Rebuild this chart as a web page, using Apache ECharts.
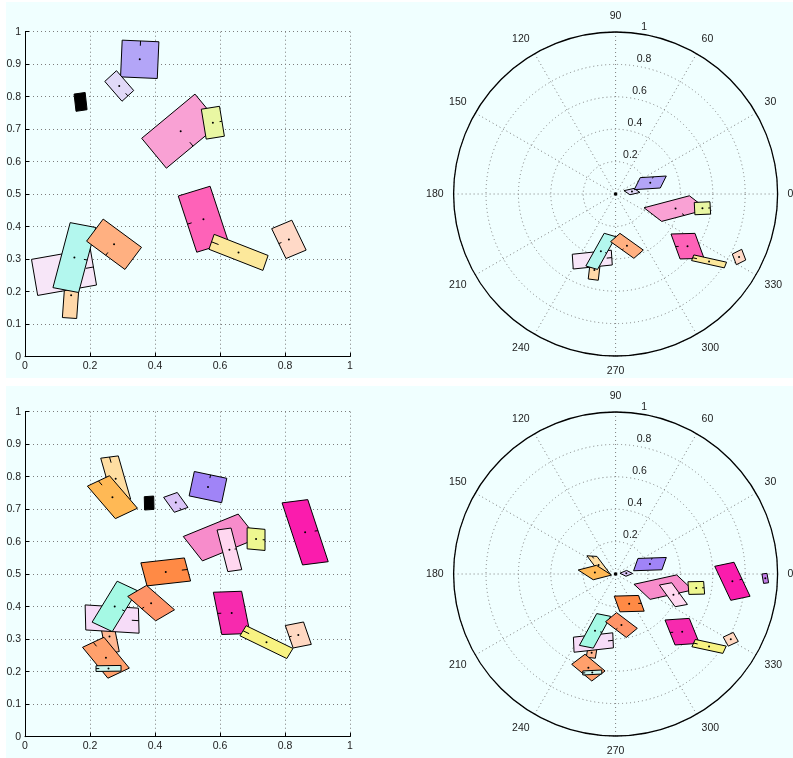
<!DOCTYPE html>
<html><head><meta charset="utf-8">
<script src="https://cdn.jsdelivr.net/npm/echarts@6/dist/echarts.min.js"></script>
<style>html,body{margin:0;padding:0;background:#ffffff;}#c{width:793px;height:758px;}</style>
</head><body><div id="c"></div>
<script>
// ---------- DATA ----------
// tick side codes: 0 = +u edge, 1 = +v edge, 2 = -u edge, 3 = -v edge, -1 = none
// Top cartesian panel
const tcX = [0.353, 0.290, 0.171, 0.479, 0.578, 0.549, 0.657, 0.812, 0.142, 0.120, 0.152, 0.274];
const tcY = [0.915, 0.833, 0.784, 0.694, 0.720, 0.423, 0.321, 0.361, 0.189, 0.260, 0.305, 0.346];
const tcU = [[0.113,-0.005],[0.053,-0.061],[0.034,0.005],[0.164,0.136],[0.056,0.009],[0.098,0.030],[0.166,-0.065],[0.062,0.026],[0.044,-0.003],[0.181,0.032],[0.079,-0.015],[0.118,-0.087]];
const tcV = [[0.005,0.113],[0.036,0.033],[-0.006,0.053],[-0.076,0.092],[-0.015,0.092],[-0.057,0.173],[0.016,0.046],[-0.044,0.092],[0.010,0.140],[-0.019,0.111],[0.053,0.200],[0.051,0.068]];
const tcTick = [1, 0, -1, 3, 0, 2, 2, 2, -1, 0, 0, 3];
const tcColor = ['#b3a5f7','#e1d9f8','#000000','#f9a1d4','#e9f7a3','#fe62b8','#fce89b','#ffd9c7','#ffd8a9','#f7e6f8','#b3f7ee','#ffb081'];

// Bottom cartesian panel
const bcX = [0.382, 0.464, 0.563, 0.279, 0.269, 0.601, 0.629, 0.711, 0.862, 0.433, 0.260, 0.268, 0.276, 0.388, 0.249, 0.257, 0.636, 0.743, 0.841];
const bcY = [0.719, 0.721, 0.768, 0.794, 0.737, 0.613, 0.575, 0.608, 0.629, 0.507, 0.308, 0.362, 0.401, 0.411, 0.243, 0.210, 0.381, 0.291, 0.313];
const bcU = [[0.029,0.002],[0.033,-0.046],[0.100,-0.021],[0.054,0.007],[0.086,-0.100],[0.169,0.069],[0.043,0.006],[0.055,-0.005],[0.079,0.010],[0.134,0.015],[0.040,0.008],[0.164,-0.010],[0.062,-0.029],[0.086,-0.075],[0.078,-0.095],[0.077,0.001],[0.087,0.003],[0.144,-0.070],[0.056,0.011]];
const bcV = [[-0.001,0.041],[0.042,0.015],[0.016,0.075],[-0.038,0.133],[0.068,0.032],[-0.059,0.075],[-0.033,0.128],[0.000,0.065],[-0.063,0.191],[-0.019,0.071],[-0.020,0.100],[-0.002,0.077],[0.077,0.126],[0.058,0.034],[0.066,0.031],[0.000,0.0175],[-0.026,0.130],[0.019,0.031],[-0.024,0.069]];
const bcTick = [-1, 0, 1, 1, 2, -1, 0, 0, 0, 0, -1, 0, 0, 3, 2, 2, 2, 2, 2];
const bcColor = ['#000000','#d9c4f7','#a084f7','#ffdea2','#ffb955','#f78ccb','#ffd7f0','#eef790','#fa1cad','#ff8a45','#ffb791','#f6dcf8','#a5f9e4','#ff9468','#ffa06c','#cff6ee','#f72aae','#f8f382','#ffd8c2'];

// Top polar panel (x, y in the polar plane, radius units)
const tpX = [0, 0.101, 0.214, 0.370, 0.536, 0.444, 0.577, 0.762, -0.131, -0.144, -0.091, 0.070];
const tpY = [0, 0.015, 0.069, -0.090, -0.088, -0.322, -0.416, -0.389, -0.469, -0.405, -0.354, -0.320];
const tpU = [[0.012,0],[0.062,0.014],[0.161,0.010],[0.280,0.074],[0.097,0.004],[0.148,0.004],[0.202,-0.045],[0.058,0.029],[0.062,-0.008],[0.241,0.025],[0.072,-0.021],[0.144,-0.103]];
const tpV = [[0,0.012],[0.037,-0.025],[0.037,0.074],[-0.109,0.084],[-0.004,0.076],[-0.056,0.154],[0.014,0.035],[0.025,-0.066],[0.014,0.119],[-0.006,0.091],[0.113,0.202],[0.058,0.051]];
const tpTick = [-1, -1, 1, 3, 0, 2, 2, -1, -1, 0, 0, 3];
const tpColor = ['#000000','#e1d9f8','#b3a5f7','#f9a1d4','#e9f7a3','#fe62b8','#fce89b','#ffd9c7','#ffd8a9','#f7e6f8','#b3f7ee','#ffb081'];

// Bottom polar panel
const bpX = [0, 0.066, 0.212, -0.105, -0.128, 0.295, 0.357, 0.498, 0.721, 0.924, 0.084, -0.148, -0.137, -0.127, 0.036, -0.168, -0.144, 0.411, 0.577, 0.711];
const bpY = [0, 0.004, 0.061, 0.056, 0.009, -0.081, -0.128, -0.086, -0.045, -0.027, -0.183, -0.486, -0.423, -0.351, -0.315, -0.578, -0.608, -0.356, -0.447, -0.403];
const bpU = [[0.012,0],[0.041,0.017],[0.175,0.006],[0.062,-0.004],[0.113,0.029],[0.263,0.058],[0.076,0.014],[0.097,0.002],[0.119,0.025],[0.031,0.004],[0.150,0.004],[0.056,-0.006],[0.243,0.027],[0.086,-0.017],[0.128,-0.097],[0.124,-0.103],[0.117,0.006],[0.150,0.010],[0.191,-0.041],[0.062,0.029]];
const bpV = [[0,0.012],[0.037,-0.019],[0.027,0.076],[-0.082,0.109],[0.093,-0.060],[-0.099,0.093],[-0.097,0.134],[-0.006,0.078],[-0.099,0.210],[-0.010,0.058],[-0.035,0.097],[0.010,0.062],[-0.004,0.093],[0.107,0.196],[0.068,0.056],[0.082,0.062],[0,0.025],[-0.062,0.154],[0.021,0.045],[0.031,-0.056]];
const bpTick = [-1, -1, 1, 1, -1, -1, 0, 0, 0, -1, 0, -1, 0, 0, 3, -1, 2, 2, 2, -1];
const bpColor = ['#000000','#d9c4f7','#a084f7','#ffdea2','#ffb955','#f78ccb','#ffd7f0','#eef790','#fa1cad','#c27de8','#ff8a45','#ffb791','#f6dcf8','#a5f9e4','#ff9468','#ffa06c','#cff6ee','#f72aae','#f8f382','#ffd8c2'];

const xTicks = [0, 0.2, 0.4, 0.6, 0.8, 1];
const yTicks = [0, 0.1, 0.2, 0.3, 0.4, 0.5, 0.6, 0.7, 0.8, 0.9, 1];
const rhoTicks = [0.2, 0.4, 0.6, 0.8, 1];
const thetaStep = 30;

// ---------- RENDERING ----------
const FONT = 'Liberation Sans, Arial, Helvetica, sans-serif';
const cartCoord = (api, x, y) => api.coord([x, y]);
const polarCoord = (api, x, y) => {
  const r = Math.sqrt(x * x + y * y);
  let t = Math.atan2(y, x) * 180 / Math.PI;
  if (t < 0) t += 360;
  return api.coord([r, t]);
};

function makeRender(X, Y, U, V, T, C, toCoord) {
  return function (params, api) {
    const i = params.dataIndex;
    const cx = X[i], cy = Y[i], u = U[i], v = V[i];
    const corner = (s, t) => toCoord(api, cx + s * u[0] / 2 + t * v[0] / 2, cy + s * u[1] / 2 + t * v[1] / 2);
    const pts = [corner(-1, -1), corner(1, -1), corner(1, 1), corner(-1, 1)];
    const children = [{
      type: 'polygon', shape: { points: pts },
      style: { fill: C[i], stroke: '#000', lineWidth: 1 }
    }];
    if (T[i] >= 0) {
      const w = (T[i] % 2 === 0) ? u : v;
      const s = T[i] < 2 ? 1 : -1;
      const p1 = toCoord(api, cx + s * w[0] * 0.5, cy + s * w[1] * 0.5);
      const p2 = toCoord(api, cx + s * w[0] * 0.37, cy + s * w[1] * 0.37);
      children.push({ type: 'line', shape: { x1: p1[0], y1: p1[1], x2: p2[0], y2: p2[1] }, style: { stroke: '#000', lineWidth: 1 } });
    }
    const c = toCoord(api, cx, cy);
    children.push({ type: 'circle', shape: { cx: c[0], cy: c[1], r: 1 }, style: { fill: '#000' } });
    return { type: 'group', children };
  };
}

const dotted = { color: '#7d7d7d', type: [1, 3], width: 1 };
function cartAxes(gi) {
  const lab = { color: '#222', fontSize: 10.5, fontFamily: FONT, margin: 4 };
  return {
    x: { gridIndex: gi, type: 'value', min: xTicks[0], max: xTicks[xTicks.length - 1], interval: xTicks[1] - xTicks[0],
      axisLine: { lineStyle: { color: '#000', width: 1 } }, axisTick: { inside: true, length: 4, lineStyle: { color: '#000' } },
      axisLabel: lab, splitLine: { show: true, lineStyle: dotted } },
    y: { gridIndex: gi, type: 'value', min: yTicks[0], max: yTicks[yTicks.length - 1], interval: +(yTicks[1] - yTicks[0]).toFixed(2),
      axisLine: { lineStyle: { color: '#000', width: 1 } }, axisTick: { inside: true, length: 4, lineStyle: { color: '#000' } },
      axisLabel: lab, splitLine: { show: true, lineStyle: dotted } }
  };
}
const ca0 = cartAxes(0), ca1 = cartAxes(1);

function angleAx(pi) {
  return { polarIndex: pi, type: 'value', min: 0, max: 360, interval: thetaStep, startAngle: 0, clockwise: false,
    axisLine: { lineStyle: { color: '#000', width: 1.3 } }, axisTick: { show: false },
    axisLabel: { margin: 10, color: '#222', fontSize: 10.5, fontFamily: FONT, formatter: v => (v === 360 ? '' : String(v)) },
    splitLine: { show: true, lineStyle: dotted } };
}
function radiusAx(pi) {
  return { polarIndex: pi, type: 'value', min: 0, max: rhoTicks[rhoTicks.length - 1], interval: rhoTicks[0],
    axisLine: { show: false }, axisTick: { show: false }, axisLabel: { show: false },
    splitLine: { show: true, lineStyle: dotted } };
}
function labelAngleAx(pi) {
  return { polarIndex: pi, type: 'value', min: 0, max: 360, startAngle: 82, show: false,
    axisLine: { show: false }, axisTick: { show: false }, axisLabel: { show: false }, splitLine: { show: false } };
}
function labelRadiusAx(pi) {
  return { polarIndex: pi, type: 'value', min: 0, max: rhoTicks[rhoTicks.length - 1], interval: rhoTicks[0],
    axisLine: { show: false }, axisTick: { show: false }, splitLine: { show: false },
    axisLabel: { show: true, margin: 0, align: 'left', verticalAlign: 'bottom', color: '#222', fontSize: 10.5, fontFamily: FONT,
      padding: [0, 0, 1, 3], formatter: v => (v === 0 ? '' : String(v)) } };
}

const PC = 615.6, R = 162;
const option = {
  animation: false,
  backgroundColor: '#ffffff',
  graphic: [
    { type: 'rect', z: -100, silent: true, shape: { x: 6, y: 2, width: 787, height: 376 }, style: { fill: '#f0ffff' } },
    { type: 'rect', z: -100, silent: true, shape: { x: 6, y: 386, width: 787, height: 372 }, style: { fill: '#f0ffff' } }
  ],
  grid: [
    { left: 25, top: 31.7, width: 325, height: 325 },
    { left: 25, top: 411.7, width: 325, height: 325 }
  ],
  xAxis: [ca0.x, ca1.x],
  yAxis: [ca0.y, ca1.y],
  polar: [
    { center: [PC, 194], radius: R },
    { center: [PC, 194], radius: R },
    { center: [PC, 574], radius: R },
    { center: [PC, 574], radius: R }
  ],
  angleAxis: [angleAx(0), labelAngleAx(1), angleAx(2), labelAngleAx(3)],
  radiusAxis: [radiusAx(0), labelRadiusAx(1), radiusAx(2), labelRadiusAx(3)],
  series: [
    { type: 'custom', coordinateSystem: 'cartesian2d', xAxisIndex: 0, yAxisIndex: 0,
      data: tcX.map((x, i) => [x, tcY[i]]), renderItem: makeRender(tcX, tcY, tcU, tcV, tcTick, tcColor, cartCoord) },
    { type: 'custom', coordinateSystem: 'cartesian2d', xAxisIndex: 1, yAxisIndex: 1,
      data: bcX.map((x, i) => [x, bcY[i]]), renderItem: makeRender(bcX, bcY, bcU, bcV, bcTick, bcColor, cartCoord) },
    { type: 'custom', coordinateSystem: 'polar', polarIndex: 0,
      data: tpX.map((x, i) => [Math.hypot(x, tpY[i]), 0]), renderItem: makeRender(tpX, tpY, tpU, tpV, tpTick, tpColor, polarCoord) },
    { type: 'custom', coordinateSystem: 'polar', polarIndex: 2,
      data: bpX.map((x, i) => [Math.hypot(x, bpY[i]), 0]), renderItem: makeRender(bpX, bpY, bpU, bpV, bpTick, bpColor, polarCoord) }
  ]
};
const chart = echarts.init(document.getElementById('c'), null, { renderer: 'canvas' });
chart.setOption(option);
</script>
</body></html>
